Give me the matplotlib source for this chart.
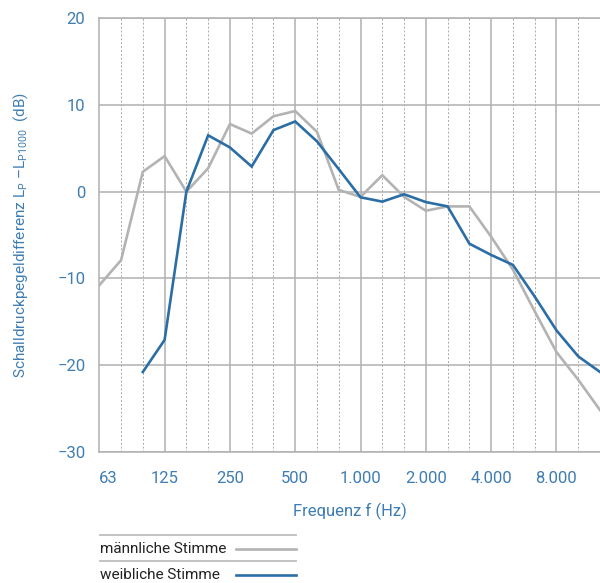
import matplotlib
import matplotlib.pyplot as plt
import numpy as np
from matplotlib.lines import Line2D

matplotlib.use("Agg")

plt.rcParams["font.family"] = ["Roboto", "DejaVu Sans"]
plt.rcParams["mathtext.fontset"] = "custom"

# third-octave band index relative to 1 kHz (63 Hz ... 12.5 kHz)
band_index = np.arange(-12, 12)
freqs = 1000.0 * 2.0 ** (band_index / 3.0)

male = [-10.8, -7.9, 2.3, 4.1, 0.0, 2.7, 7.8, 6.7, 8.7, 9.3, 6.9, 0.2,
        -0.6, 1.9, -0.6, -2.2, -1.7, -1.7, -5.2, -9.0, -13.8, -18.5, -21.7, -25.2]
female = [np.nan, np.nan, -20.8, -17.1, 0.0, 6.5, 5.1, 2.9, 7.1, 8.1, 5.8, 2.6,
          -0.65, -1.15, -0.3, -1.2, -1.7, -6.0, -7.3, -8.45, -12.1, -16.0, -19.0, -20.8]

octave_index = np.arange(-12, 10, 3)
octave_labels = ["63", "125", "250", "500", "1.000", "2.000", "4.000", "8.000"]
y_ticks = [20, 10, 0, -10, -20, -30]
y_labels = ["20", "10", "0", "\u221210", "\u221220", "\u221230"]

BLUE = "#2b6ea6"
GRAY = "#b3b3b3"
LABEL_BLUE = "#3e7db3"

fig = plt.figure(figsize=(6.0, 5.83), dpi=100)
ax = fig.add_axes([0.1655, 0.2252, 0.8345, 0.7434])
ax.set_xscale("log")
ax.set_xlim(freqs[0], freqs[-1])
ax.set_ylim(-30, 20)

octave_freqs = 1000.0 * 2.0 ** (octave_index / 3.0)
minor_freqs = [f for k, f in zip(band_index, freqs) if k % 3 != 0]

for f in minor_freqs:
    ax.axvline(f, color="#a8a8a8", lw=0.7, ls=(0, (2, 2)), zorder=1)
for f in octave_freqs[1:]:
    ax.axvline(f, color="#b0b0b0", lw=1.1, zorder=1)
for y in y_ticks:
    ax.axhline(y, color="#b0b0b0", lw=1.1, zorder=1)

ax.plot(freqs, male, color=GRAY, lw=1.9, zorder=3, solid_joinstyle="miter")
ax.plot(freqs, female, color=BLUE, lw=1.9, zorder=4, solid_joinstyle="miter")

ax.set_xticks(octave_freqs)
ax.set_xticklabels(octave_labels)
ax.xaxis.set_minor_locator(matplotlib.ticker.NullLocator())
ax.set_yticks(y_ticks)
ax.set_yticklabels(y_labels)
ax.tick_params(length=0, labelsize=12, labelcolor=LABEL_BLUE)
ax.tick_params(axis="x", pad=14)
ax.tick_params(axis="y", pad=10)
ax.get_xticklabels()[0].set_horizontalalignment("left")

for name, spine in ax.spines.items():
    spine.set_color("#b0b0b0")
    spine.set_linewidth(1.1)
ax.spines["right"].set_visible(False)

ax.set_xlabel("Frequenz f (Hz)", fontsize=12, color=LABEL_BLUE, labelpad=12)
fig.text(0.035, 0.597,
         "Schalldruckpegeldifferenz L$_\\mathregular{P}$ \u2013L$_\\mathregular{P1000}$  (dB)",
         rotation=90, ha="center", va="center", fontsize=11, color=LABEL_BLUE)

# legend drawn below the chart
x0, x1 = 100 / 600, 296 / 600
for ypx in (535, 561):
    fig.add_artist(Line2D([x0, x1], [1 - ypx / 583] * 2, color="#bdbdbd", lw=1.3))
entries = [("männliche Stimme", GRAY, 549), ("weibliche Stimme", BLUE, 575)]
for text, color, ypx in entries:
    yy = 1 - ypx / 583
    fig.text(x0, yy, text, fontsize=11, color="#222222", ha="left", va="center")
    fig.add_artist(Line2D([236 / 600, x1], [yy, yy], color=color, lw=1.9))

fig.savefig("out.png", dpi=100)
